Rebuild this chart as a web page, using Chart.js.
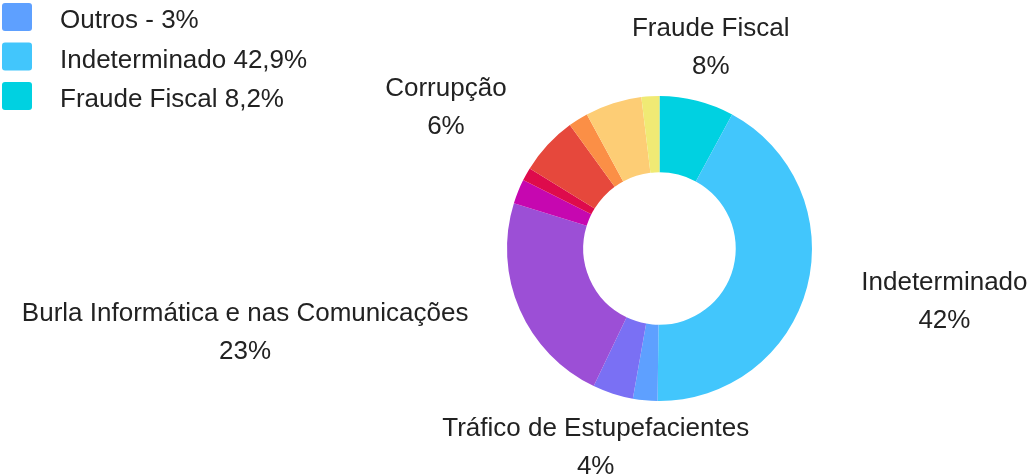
<!DOCTYPE html>
<html>
<head>
<meta charset="utf-8">
<script src="https://cdn.jsdelivr.net/npm/chart.js@4.4.1/dist/chart.umd.min.js"></script>
<style>
  html, body { margin: 0; padding: 0; background: #fff; }
  #wrap { position: relative; width: 1035px; height: 474px; }
</style>
</head>
<body>
<div id="wrap"><canvas id="myChart"></canvas></div>
<script>
// segments clockwise from the top; the unlabeled ones have no readable name in the picture
const categories = ['Fraude Fiscal', 'Indeterminado', 'Outros', 'Tráfico de Estupefacientes',
  'Burla Informática e nas Comunicações', 'Categoria 6', 'Categoria 7', 'Corrupção',
  'Categoria 9', 'Categoria 10', 'Categoria 11'];
const shares = [7.9, 42.3, 2.6, 4.3, 22.7, 2.6, 1.4, 6.2, 2.1, 6.0, 1.9];
const legendLabels = ['Fraude Fiscal 8,2%', 'Indeterminado 42,9%', 'Outros - 3%', 'Tráfico de Estupefacientes',
  'Burla Informática e nas Comunicações', 'Categoria 6', 'Categoria 7', 'Corrupção',
  'Categoria 9', 'Categoria 10', 'Categoria 11'];
const showLabel = [true, true, false, true, true, false, false, true, false, false, false];
const colors = ['#00d1e1', '#42c6fc', '#5ea0ff', '#7a70f4', '#9c4fd6', '#c607b0',
  '#de0b4c', '#e6483c', '#fb8f46', '#fdcd75', '#f0ea74'];

const FONT = '"Liberation Sans", Arial, sans-serif';

// two-line labels outside the ring
const outerLabels = {
  id: 'outerLabels',
  afterDatasetsDraw(chart) {
    const ctx = chart.ctx;
    const meta = chart.getDatasetMeta(0);
    const total = shares.reduce((a, b) => a + b, 0);
    ctx.save();
    ctx.font = '26px ' + FONT;
    ctx.fillStyle = '#222';
    ctx.textBaseline = 'middle';
    ctx.textAlign = 'center';
    meta.data.forEach((arc, i) => {
      if (!showLabel[i]) return;
      const p = arc.getProps(['x', 'y', 'startAngle', 'endAngle', 'outerRadius'], true);
      const mid = (p.startAngle + p.endAngle) / 2;
      const r = p.outerRadius + 56;
      const ax = p.x + Math.cos(mid) * r;
      const ay = p.y + Math.sin(mid) * r;
      const lines = [categories[i], Math.round(shares[i] / total * 100) + '%'];
      const w = Math.max(...lines.map(t => ctx.measureText(t).width));
      let cx = ax;
      if (Math.cos(mid) > 0.5) cx = ax + w / 2;
      else if (Math.cos(mid) < -0.5) cx = ax - w / 2;
      ctx.fillText(lines[0], cx, ay - 18);
      ctx.fillText(lines[1], cx, ay + 20);
    });
    ctx.restore();
  }
};

// legend in reverse order, bottom item at the top-left (upper items run off the canvas)
const topLegend = {
  id: 'topLegend',
  afterDraw(chart) {
    const ctx = chart.ctx;
    ctx.save();
    ctx.font = '26px ' + FONT;
    ctx.textBaseline = 'middle';
    ctx.textAlign = 'left';
    legendLabels.forEach((txt, i) => {
      const y = 96 - i * 39.5;
      ctx.fillStyle = colors[i];
      ctx.beginPath();
      ctx.roundRect(2, y - 14, 30, 28, 3);
      ctx.fill();
      ctx.fillStyle = '#222';
      ctx.fillText(txt, 60, y + 4);
    });
    ctx.restore();
  }
};

const ctx = document.getElementById('myChart');

new Chart(ctx, {
  type: 'doughnut',
  data: {
    labels: categories,
    datasets: [{
      data: shares,
      backgroundColor: colors,
      borderWidth: 0,
      hoverOffset: 0
    }]
  },
  options: {
    responsive: true,
    maintainAspectRatio: false,
    animation: false,
    cutout: '50%',
    layout: { padding: { left: 507, right: 223, top: 96, bottom: 73 } },
    plugins: {
      legend: { display: false },
      tooltip: { enabled: false }
    }
  },
  plugins: [outerLabels, topLegend]
});
</script>
</body>
</html>
